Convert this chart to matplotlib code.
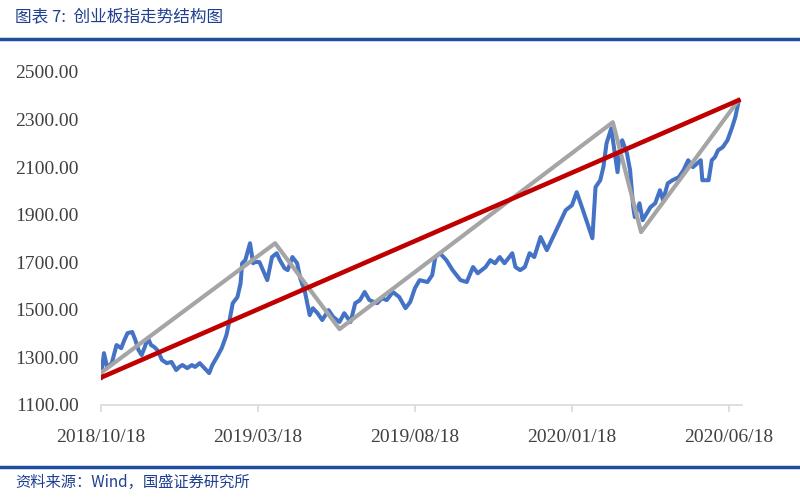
import matplotlib
matplotlib.use("Agg")
import matplotlib.pyplot as plt

# trading-day index (0 = 2018/10/18) and index level
day = [0, 2, 4, 7, 10, 13, 15, 17, 20, 22, 24, 26, 28, 30, 32, 34, 36, 39, 42, 45,
       48, 50, 52, 55, 58, 60, 63, 66, 69, 71, 74, 77, 80, 82, 84, 87, 89, 90, 92, 95,
       97, 98, 101, 106, 109, 112, 114, 117, 119, 122, 125, 127, 130, 133, 135, 138, 141, 145, 148, 152,
       155, 159, 162, 165, 168, 171, 176, 179, 182, 186, 190, 194, 197, 200, 203, 208, 211, 213, 216, 220,
       224, 229, 233, 237, 240, 245, 248, 251, 254, 257, 262, 264, 267, 270, 273, 276, 280, 284, 287, 291,
       296, 300, 303, 307, 313, 315, 318, 320, 322, 325, 327, 329, 331, 332, 335, 337, 339, 340, 343, 345,
       350, 353, 356, 358, 361, 364, 368, 371, 374, 377, 382, 383, 387, 389, 391, 393, 396, 399, 402, 404, 406]
index_val = [1213, 1318, 1260, 1276, 1352, 1339, 1373, 1402, 1407, 1373, 1331, 1310, 1344, 1381, 1352, 1344, 1331, 1289, 1276, 1281,
             1247, 1260, 1268, 1255, 1268, 1260, 1276, 1255, 1234, 1268, 1302, 1339, 1394, 1457, 1528, 1554, 1612, 1696, 1709, 1780,
             1696, 1701, 1701, 1625, 1722, 1738, 1709, 1675, 1667, 1722, 1696, 1633, 1575, 1478, 1507, 1486, 1457, 1499, 1470, 1449,
             1486, 1449, 1528, 1541, 1575, 1541, 1528, 1549, 1541, 1575, 1554, 1507, 1533, 1591, 1625, 1617, 1646, 1722, 1738, 1709,
             1667, 1625, 1617, 1680, 1654, 1680, 1709, 1696, 1722, 1696, 1738, 1680, 1667, 1680, 1738, 1722, 1806, 1751, 1793, 1848,
             1919, 1940, 1995, 1919, 1801, 2016, 2045, 2100, 2200, 2263, 2171, 2079, 2200, 2213, 2158, 2087, 1932, 1890, 1948, 1877,
             1932, 1948, 2003, 1961, 2032, 2045, 2058, 2087, 2129, 2100, 2129, 2045, 2045, 2129, 2142, 2171, 2184, 2213, 2268, 2310, 2373]

# zigzag structure and long-term trend line
wave_day = [0, 111, 152, 326, 344, 406]
wave_val = [1235, 1780, 1419, 2289, 1827, 2381]
trend_day = [0, 406]
trend_val = [1215, 2381]

tick_day = [0, 100, 200, 300, 400]
tick_lbl = ["2018/10/18", "2019/03/18", "2019/08/18", "2020/01/18", "2020/06/18"]
y_ticks = [1100, 1300, 1500, 1700, 1900, 2100, 2300, 2500]

navy = "#1F3F8F"
cjk = ["Noto Sans CJK SC", "DejaVu Sans"]

fig = plt.figure(figsize=(8, 5), dpi=100)
ax = fig.add_axes([0.126, 0.19, 0.801, 0.666])

ax.plot(day, index_val, color="#4472C4", lw=2.9, zorder=2, solid_joinstyle="round")
ax.plot(wave_day, wave_val, color="#A5A5A5", lw=3.0, zorder=3)
ax.plot(trend_day, trend_val, color="#C00000", lw=3.3, zorder=4)

ax.set_xlim(0, 408)
ax.set_ylim(1100, 2500)
ax.set_yticks(y_ticks)
ax.set_yticklabels(["%.2f" % v for v in y_ticks])
ax.set_xticks(tick_day)
ax.set_xticklabels(tick_lbl)

for s in ["top", "right", "left"]:
    ax.spines[s].set_visible(False)
ax.spines["bottom"].set_color("#D9D9D9")
ax.spines["bottom"].set_linewidth(1.2)
ax.tick_params(axis="y", length=0, pad=16, labelsize=14, labelcolor="#404040")
ax.tick_params(axis="x", length=5, width=1.2, color="#D9D9D9", pad=12,
               labelsize=14, labelcolor="#404040")
for lab in ax.get_xticklabels() + ax.get_yticklabels():
    lab.set_fontfamily("Liberation Serif")

# header and footer
fig.text(0.019, 0.966, "图表 7:  创业板指走势结构图", family=cjk, fontsize=12,
         color=navy, va="center", ha="left")
fig.add_artist(plt.Line2D([0, 1], [0.922, 0.922], color="#1F4E9F", lw=2.5))
fig.add_artist(plt.Line2D([0, 1], [0.066, 0.066], color="#1F4E9F", lw=2.5))
fig.text(0.019, 0.036, "资料来源：Wind，国盛证券研究所", family=cjk, fontsize=11,
         color=navy, va="center", ha="left")

fig.savefig("out.png", dpi=100)
